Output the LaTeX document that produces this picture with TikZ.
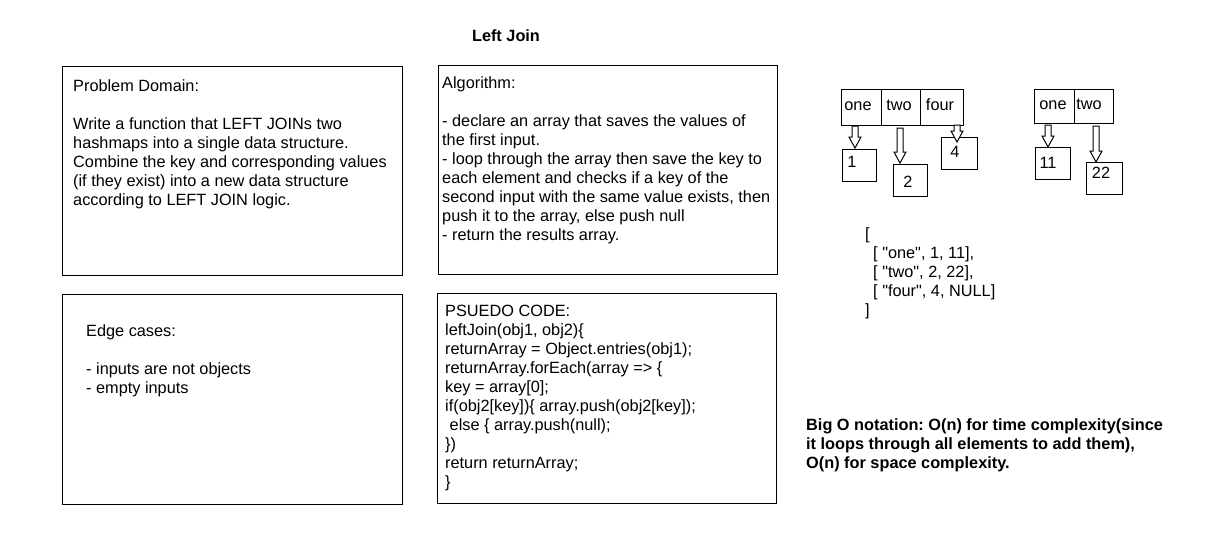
\documentclass[tikz,border=0pt]{standalone}
\usepackage{fontspec}
\setmainfont{Liberation Sans}[Ligatures=TeXOff]
\frenchspacing
\begin{document}
\begin{tikzpicture}[x=1pt,y=-1pt,
  font=\fontsize{16.3}{19}\selectfont,
  box/.style={draw, line width=1pt, anchor=north west, inner sep=0pt},
  txt/.style={anchor=base west, align=left, inner sep=0pt},
  cell/.style={draw, line width=1pt, anchor=north west, inner sep=0pt},
  lbl/.style={inner sep=0pt, anchor=base},
  barrow/.pic={\draw[fill=white, line width=1pt] (-3,0) -- (-3,#1-11) -- (-6,#1-11) -- (0,#1) -- (6,#1-11) -- (3,#1-11) -- (3,0) -- cycle;}]
\useasboundingbox (0,0) rectangle (1220,550);

% title
\node[lbl, font=\fontsize{16.3}{19}\selectfont\bfseries] (title) at (506,41.5) {Left Join};

% main boxes
\node[box, minimum width=340, minimum height=209] (pd) at (62,66) {};
\node[box, minimum width=339, minimum height=209] (alg) at (438,65) {};
\node[box, minimum width=340, minimum height=210] (edge) at (62,294) {};
\node[box, minimum width=339, minimum height=210] (code) at (437,293) {};

% (anchor = baseline of the last line)
\node[txt] (pdtxt) at (73,205.5) {Problem Domain:\\[19pt]
Write a function that LEFT JOINs two\\
hashmaps into a single data structure.\\
Combine the key and corresponding values\\
(if they exist) into a new data structure\\
according to LEFT JOIN logic.};

\node[txt] (algtxt) at (442,240.5) {Algorithm:\\[19pt]
- declare an array that saves the values of\\
the first input.\\
- loop through the array then save the key to\\
each element and checks if a key of the\\
second input with the same value exists, then\\
push it to the array, else push null\\
- return the results array.};

\node[txt] (edgetxt) at (86,393.5) {Edge cases:\\[19pt]
- inputs are not objects\\
- empty inputs};

\node[txt] (codetxt) at (445,487.5) {PSUEDO CODE:\\
leftJoin(obj1, obj2)\{\\
returnArray = Object.entries(obj1);\\
returnArray.forEach(array => \{\\
key = array[0];\\
if(obj2[key])\{ array.push(obj2[key]);\\
\ else \{ array.push(null);\\
\})\\
return returnArray;\\
\}};

% hashmap 1
\node[cell, minimum width=40, minimum height=36] (h1a) at (841,89) {};
\node[cell, minimum width=39, minimum height=36] (h1b) at (881,89) {};
\node[cell, minimum width=43, minimum height=36] (h1c) at (920,89) {};
\node[lbl] (l1a) at (858,110.5) {one};
\node[lbl] (l1b) at (899,110.5) {two};
\node[lbl] (l1c) at (940,110.5) {four};

% hashmap 2
\node[cell, minimum width=40, minimum height=34] (h2a) at (1034,89) {};
\node[cell, minimum width=39, minimum height=34] (h2b) at (1074,89) {};
\node[lbl] (l2a) at (1053,109.5) {one};
\node[lbl] (l2b) at (1089,109.5) {two};

% value boxes
\node[cell, minimum width=34, minimum height=32] (v1) at (842,149) {};
\node[cell, minimum width=34, minimum height=32] (v2) at (893,164) {};
\node[cell, minimum width=36, minimum height=32] (v4) at (941,137) {};
\node[cell, minimum width=35, minimum height=32] (v11) at (1035,147) {};
\node[cell, minimum width=36, minimum height=32] (v22) at (1086,162) {};
\node[lbl] (t1) at (852,167.5) {1};
\node[lbl] (t2) at (908,187.5) {2};
\node[lbl] (t4) at (955,157.5) {4};
\node[lbl] (t11) at (1048,168.5) {11};
\node[lbl] (t22) at (1101,178.5) {22};

% block arrows
\pic at (855,126) {barrow=22};
\pic at (900,128) {barrow=35};
\pic at (957,125) {barrow=17};
\pic at (1048,125) {barrow=22};
\pic at (1096,126) {barrow=36};

% result
\node[txt] (res) at (865,315.5) {[\\
\hspace*{8pt}[ "one", 1, 11],\\
\hspace*{8pt}[ "two", 2, 22],\\
\hspace*{8pt}[ "four", 4, NULL]\\
]};

% big O
\node[txt, font=\fontsize{16.3}{19}\selectfont\bfseries] (bigo) at (806,468.5) {Big O notation: O(n) for time complexity(since\\
it loops through all elements to add them),\\
O(n) for space complexity.};
\end{tikzpicture}
\end{document}
